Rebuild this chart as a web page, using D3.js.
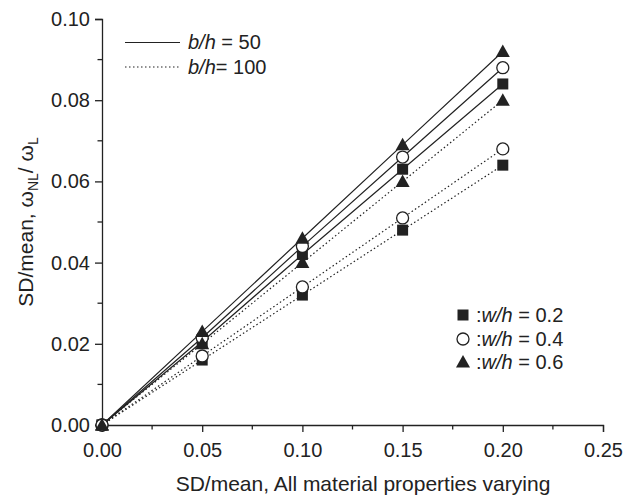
<!DOCTYPE html>
<html><head><meta charset="utf-8">
<script src="https://cdn.jsdelivr.net/npm/d3@7"></script>
<style>body{margin:0;background:#fff}svg{display:block}text{font-family:"Liberation Sans",Arial,sans-serif;fill:#222}</style>
</head><body><svg id="c" width="626" height="498"></svg>
<script>
const xValues = [0, 0.05, 0.10, 0.15, 0.20];
const bh50_w02 = [0, 0.0205, 0.042, 0.063, 0.084];
const bh50_w04 = [0, 0.0215, 0.044, 0.066, 0.088];
const bh50_w06 = [0, 0.023, 0.046, 0.069, 0.092];
const bh100_w02 = [0, 0.016, 0.032, 0.048, 0.064];
const bh100_w04 = [0, 0.017, 0.034, 0.051, 0.068];
const bh100_w06 = [0, 0.020, 0.040, 0.060, 0.080];
const xTicks = [0, 0.05, 0.10, 0.15, 0.20, 0.25];
const yTicks = [0, 0.02, 0.04, 0.06, 0.08, 0.10];
const seriesList = [
  {vals: bh50_w02, marker: "square", dash: false},
  {vals: bh50_w04, marker: "circle", dash: false},
  {vals: bh50_w06, marker: "triangle", dash: false},
  {vals: bh100_w02, marker: "square", dash: true},
  {vals: bh100_w04, marker: "circle", dash: true},
  {vals: bh100_w06, marker: "triangle", dash: true}
];

const svg = d3.select("#c");
const x = d3.scaleLinear().domain([0, 0.25]).range([102, 603]);
const y = d3.scaleLinear().domain([0, 0.10]).range([425, 19]);
const ink = "#222";

const xAxis = d3.axisBottom(x).tickValues(xTicks).tickFormat(d3.format(".2f")).tickSize(7).tickPadding(11);
const gx = svg.append("g").attr("transform", `translate(0,${y(0)})`).call(xAxis);
const yAxis = d3.axisLeft(y).tickValues(yTicks).tickFormat(d3.format(".2f")).tickSize(7).tickPadding(5);
const gy = svg.append("g").attr("transform", `translate(${x(0)},0)`).call(yAxis);
[gx, gy].forEach(g => {
  g.select(".domain").attr("stroke", ink).attr("stroke-width", 1.3);
  g.selectAll(".tick line").attr("stroke", ink).attr("stroke-width", 1.3);
  g.selectAll(".tick text").style("font-size", "20px").attr("fill", ink);
});
const xMinor = d3.range(0.025, 0.25, 0.05);
svg.append("g").selectAll("line").data(xMinor).join("line")
  .attr("x1", d => x(d)).attr("x2", d => x(d)).attr("y1", y(0)).attr("y2", y(0) + 4.5)
  .attr("stroke", ink).attr("stroke-width", 1.3);
const yMinor = d3.range(0.01, 0.1, 0.02);
svg.append("g").selectAll("line").data(yMinor).join("line")
  .attr("x1", x(0)).attr("x2", x(0) - 4.5).attr("y1", d => y(d)).attr("y2", d => y(d))
  .attr("stroke", ink).attr("stroke-width", 1.3);

svg.append("text").attr("x", 363).attr("y", 491).attr("text-anchor", "middle")
  .style("font-size", "21px").text("SD/mean, All material properties varying");
const yt = svg.append("text").attr("transform", "translate(33,222) rotate(-90)").attr("text-anchor", "middle")
  .style("font-size", "21px");
yt.append("tspan").text("SD/mean, ω");
yt.append("tspan").attr("dy", 5).style("font-size", "14px").text("NL");
yt.append("tspan").attr("dy", -5).text("/ ω");
yt.append("tspan").attr("dy", 5).style("font-size", "14px").text("L");

const line = d3.line().x((d, i) => x(xValues[i])).y(d => y(d));
seriesList.forEach(s => {
  svg.append("path").datum(s.vals).attr("d", line).attr("fill", "none")
    .attr("stroke", ink).attr("stroke-width", 1.2)
    .attr("stroke-dasharray", s.dash ? "1.5,2.5" : null);
});

function drawMarker(g, type, cx, cy) {
  if (type === "square") {
    g.append("rect").attr("x", cx - 5.5).attr("y", cy - 5.5).attr("width", 11).attr("height", 11).attr("fill", ink);
  } else if (type === "circle") {
    g.append("circle").attr("cx", cx).attr("cy", cy).attr("r", 6).attr("fill", "#fff").attr("stroke", ink).attr("stroke-width", 1.3);
  } else {
    g.append("path").attr("d", `M${cx},${cy - 7}L${cx + 7},${cy + 5.5}L${cx - 7},${cy + 5.5}Z`).attr("fill", ink);
  }
}
const mg = svg.append("g");
seriesList.forEach(s => {
  s.vals.forEach((v, i) => drawMarker(mg, s.marker, x(xValues[i]), y(v)));
});

const lg = svg.append("g");
lg.append("line").attr("x1", 125).attr("x2", 180).attr("y1", 42.5).attr("y2", 42.5).attr("stroke", ink).attr("stroke-width", 1.2);
lg.append("line").attr("x1", 125).attr("x2", 180).attr("y1", 67).attr("y2", 67).attr("stroke", ink).attr("stroke-width", 1.2).attr("stroke-dasharray", "1.5,2.5");
const t1 = lg.append("text").attr("x", 188).attr("y", 49).style("font-size", "20px");
t1.append("tspan").style("font-style", "italic").text("b/h");
t1.append("tspan").text(" = 50");
const t2 = lg.append("text").attr("x", 188).attr("y", 73.5).style("font-size", "20px");
t2.append("tspan").style("font-style", "italic").text("b/h");
t2.append("tspan").text("= 100");

const mlabels = [["square", "0.2", 315], ["circle", "0.4", 339], ["triangle", "0.6", 362]];
mlabels.forEach(([m, v, yy]) => {
  drawMarker(lg, m, 463, yy);
  const t = lg.append("text").attr("x", 476).attr("y", yy + 7).style("font-size", "20px");
  t.append("tspan").text(":");
  t.append("tspan").style("font-style", "italic").text("w/h");
  t.append("tspan").text(" = " + v);
});
</script></body></html>
